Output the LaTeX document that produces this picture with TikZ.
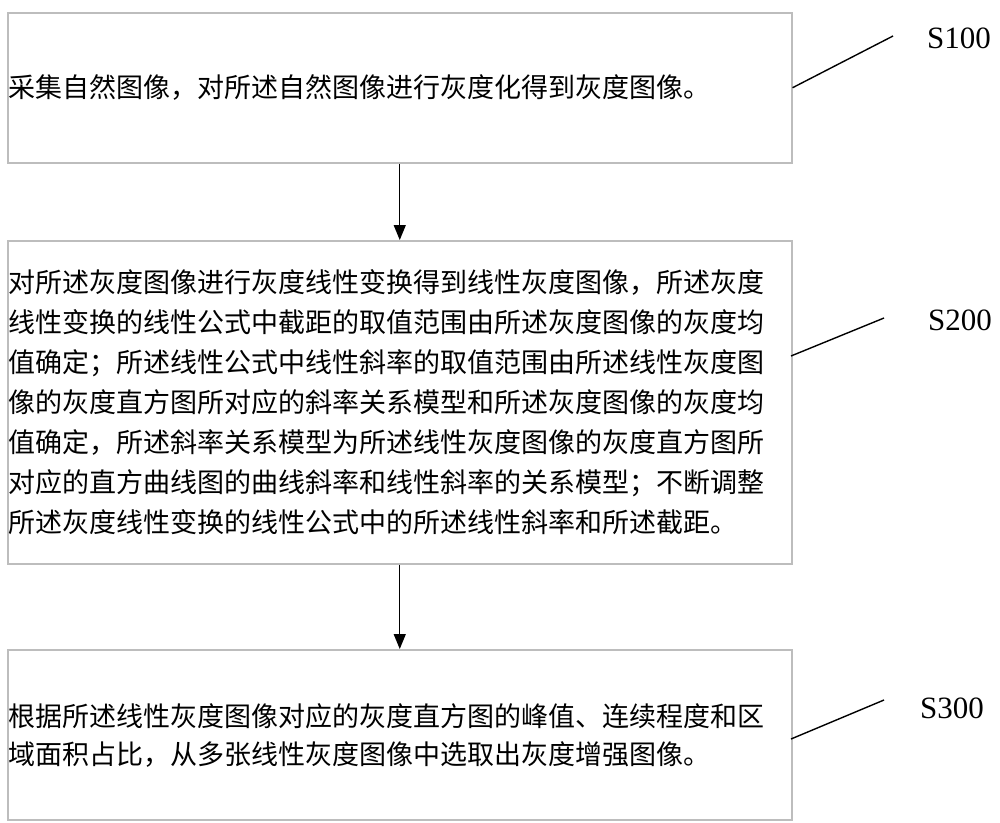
\documentclass[tikz,border=0pt]{standalone}
\usepackage{fontspec}
\setmainfont{Liberation Serif}
\newfontfamily\cjk{Noto Sans CJK SC}
\usetikzlibrary{arrows.meta}
\definecolor{boxgray}{HTML}{BDBDBD}
\tikzset{
  stepbox/.style={draw=boxgray, line width=1.5pt, rectangle, minimum width=784pt, anchor=north west, inner sep=0pt},
  txt/.style={anchor=base west, inner sep=0pt, font={\cjk\fontsize{27}{40}\selectfont}},
  lbl/.style={inner sep=0pt, font={\fontsize{31}{36}\selectfont}},
  leader/.style={draw=black, line width=1.4pt},
  arr/.style={draw=black, line width=1.4pt, -{Triangle[length=15pt,width=12pt]}}
}
\begin{document}
\begin{tikzpicture}[x=1pt,y=-1pt]
\useasboundingbox (0,0) rectangle (1000,822);
\fill[white] (0,0) rectangle (1000,822);
% boxes
\node[stepbox, minimum height=150pt] (b1) at (7,12) {};
\node[stepbox, minimum height=323pt] (b2) at (7,240) {};
\node[stepbox, minimum height=170pt] (b3) at (7,649) {};
% texts
\node[txt] (t1) at (8,97) {采集自然图像，对所述自然图像进行灰度化得到灰度图像。};
\node[txt] (t21) at (8,292) {对所述灰度图像进行灰度线性变换得到线性灰度图像，所述灰度};
\node[txt] (t22) at (8,332) {线性变换的线性公式中截距的取值范围由所述灰度图像的灰度均};
\node[txt] (t23) at (8,372) {值确定；所述线性公式中线性斜率的取值范围由所述线性灰度图};
\node[txt] (t24) at (8,412) {像的灰度直方图所对应的斜率关系模型和所述灰度图像的灰度均};
\node[txt] (t25) at (8,452) {值确定，所述斜率关系模型为所述线性灰度图像的灰度直方图所};
\node[txt] (t26) at (8,492) {对应的直方曲线图的曲线斜率和线性斜率的关系模型；不断调整};
\node[txt] (t27) at (8,532) {所述灰度线性变换的线性公式中的所述线性斜率和所述截距。};
\node[txt] (t31) at (8,726) {根据所述线性灰度图像对应的灰度直方图的峰值、连续程度和区};
\node[txt] (t32) at (8,764) {域面积占比，从多张线性灰度图像中选取出灰度增强图像。};
% arrows
\draw[arr] (b1.south) -- (b2.north);
\draw[arr] (b2.south) -- (b3.north);
% labels
\node[lbl] (s1) at (959,38) {S100};
\node[lbl] (s2) at (960,320) {S200};
\node[lbl] (s3) at (952,708) {S300};
\coordinate (e1) at (893,36);
\coordinate (p2) at (791,356);
\coordinate (e2) at (884,318);
\coordinate (p3) at (791,739);
\coordinate (e3) at (884,700);
\draw[leader] (b1.east) -- (e1);
\draw[leader] (p2) -- (e2);
\draw[leader] (p3) -- (e3);
\end{tikzpicture}
\end{document}
